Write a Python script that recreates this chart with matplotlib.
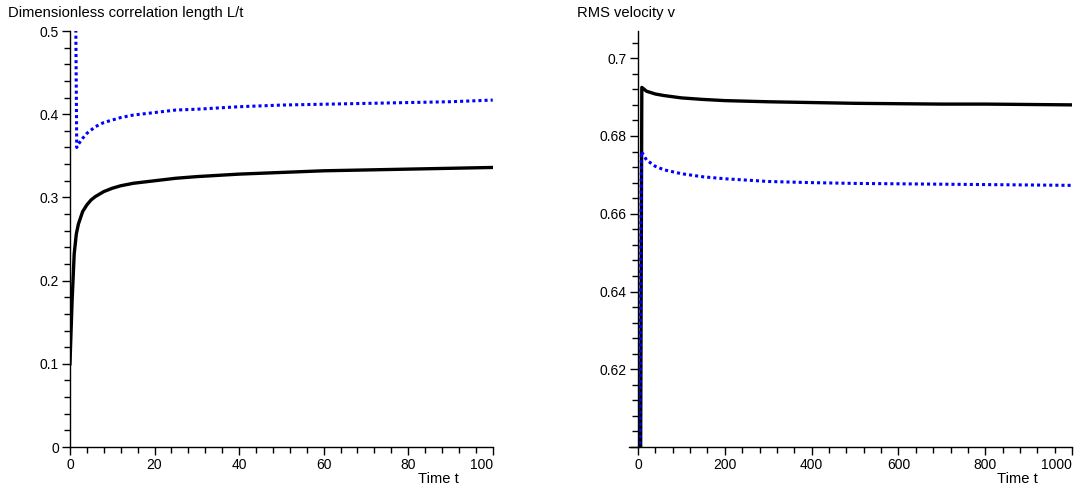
import numpy as np
from matplotlib import pyplot as plt
from matplotlib.ticker import MultipleLocator, FuncFormatter

plt.rcParams['font.family'] = ['Liberation Sans', 'DejaVu Sans']

# ----- left panel: dimensionless correlation length L/t
t_left_black = [0, 0.5, 1, 1.5, 2, 3, 4, 5, 6, 8, 10, 12, 15, 20, 25, 30,
                40, 50, 60, 70, 80, 90, 100]
L_black = [0.100, 0.175, 0.232, 0.256, 0.268, 0.283, 0.291, 0.297, 0.301,
           0.307, 0.311, 0.314, 0.317, 0.320, 0.323, 0.325, 0.328, 0.330,
           0.332, 0.333, 0.334, 0.335, 0.336]

t_left_blue = [1.3, 1.6, 2, 3, 4, 5, 6, 8, 10, 12, 15, 20, 25, 30, 40, 50,
               60, 70, 80, 90, 100]
L_blue = [0.56, 0.360, 0.364, 0.371, 0.377, 0.381, 0.385, 0.390, 0.393,
          0.396, 0.399, 0.402, 0.405, 0.406, 0.409, 0.411, 0.412, 0.413,
          0.414, 0.415, 0.417]

# ----- right panel: RMS velocity v
t_right_black = [0, 9, 20, 40, 60, 100, 150, 200, 300, 400, 500, 600, 700,
                 800, 900, 1000]
v_black = [0.38, 0.6925, 0.6915, 0.6908, 0.6904, 0.6898, 0.6894, 0.6891,
           0.6888, 0.6886, 0.6884, 0.6883, 0.6882, 0.6882, 0.6881, 0.6880]

t_right_blue = [0, 8, 20, 40, 60, 100, 150, 200, 300, 400, 500, 600, 700,
                800, 900, 1000]
v_blue = [0.50, 0.676, 0.6738, 0.6722, 0.6713, 0.6703, 0.6695, 0.6690,
          0.6683, 0.6680, 0.6678, 0.6677, 0.6676, 0.6675, 0.6674, 0.6673]

# tick values
left_xticks = [0, 20, 40, 60, 80, 100]
right_xticks = [0, 200, 400, 600, 800, 1000]


def style_axes(ax):
    # maple-like axes: only left and bottom lines, ticks pointing out
    ax.spines['top'].set_visible(False)
    ax.spines['right'].set_visible(False)
    ax.spines['left'].set_linewidth(1.0)
    ax.spines['bottom'].set_linewidth(1.0)
    ax.tick_params(which='major', direction='out', length=6, width=1,
                   labelsize=10, pad=2)
    ax.tick_params(which='minor', direction='out', length=4, width=1)


fig = plt.figure(figsize=(10.83, 4.86), dpi=100)

ax1 = fig.add_axes([0.0646, 0.0802, 0.3904, 0.856])
ax1.plot(t_left_black, L_black, color='black', lw=2.4)
ax1.plot(t_left_blue, L_blue, color='blue', lw=2.2, ls=(0, (1, 1)))
ax1.set_xlim(0, 100)
ax1.set_ylim(0, 0.5)
ax1.set_xticks(left_xticks)
ax1.set_xticklabels([str(v) for v in left_xticks])
ax1.xaxis.set_minor_locator(MultipleLocator(4))
ax1.yaxis.set_major_locator(MultipleLocator(0.1))
ax1.yaxis.set_minor_locator(MultipleLocator(0.02))
ax1.yaxis.set_major_formatter(FuncFormatter(lambda v, p: '0' if abs(v) < 1e-9 else ('%.1f' % v)))
style_axes(ax1)
ax1.get_xticklabels()[-1].set_horizontalalignment('right')

ax2 = fig.add_axes([0.581, 0.0802, 0.409, 0.856])
ax2.plot(t_right_black, v_black, color='black', lw=2.4)
ax2.plot(t_right_blue, v_blue, color='blue', lw=2.2, ls=(0, (1, 1)))
ax2.set_xlim(-20, 1000)
ax2.set_ylim(0.6, 0.707)
ax2.spines['left'].set_position(('data', 0))
ax2.set_xticks(right_xticks)
ax2.set_xticklabels([str(v) for v in right_xticks])
ax2.xaxis.set_minor_locator(MultipleLocator(40))
ax2.yaxis.set_major_locator(MultipleLocator(0.02))
ax2.yaxis.set_minor_locator(MultipleLocator(0.004))
ax2.yaxis.set_major_formatter(FuncFormatter(lambda v, p: '' if v < 0.61 else ('%g' % round(v, 3))))
style_axes(ax2)
ax2.get_xticklabels()[-1].set_horizontalalignment('right')

fig.text(0.0074, 0.973, 'Dimensionless correlation length L/t', fontsize=10.6,
         ha='left', va='center')
fig.text(0.533, 0.973, 'RMS velocity v', fontsize=10.6, ha='left', va='center')
fig.text(0.386, 0.014, 'Time t', fontsize=10.6, ha='left', va='center')
fig.text(0.921, 0.014, 'Time t', fontsize=10.6, ha='left', va='center')

fig.savefig('out.png', dpi=100)
